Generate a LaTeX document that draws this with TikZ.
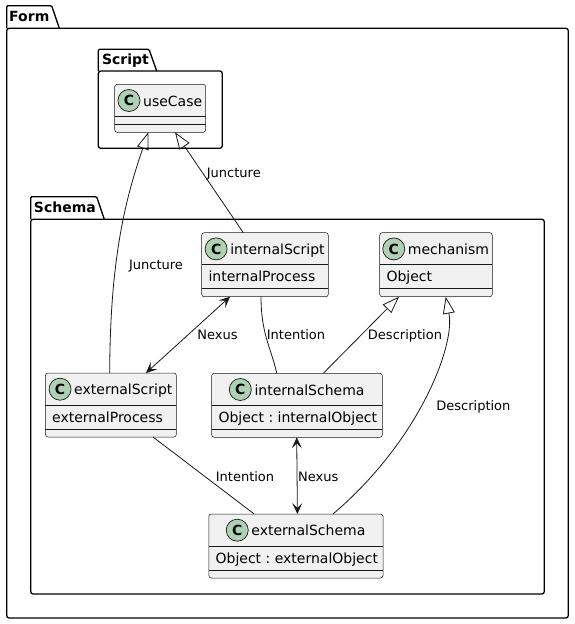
\documentclass[tikz,border=0pt]{standalone}
\usepackage{fontspec}
\setmainfont{DejaVu Sans}
\usetikzlibrary{arrows.meta}
\frenchspacing
\definecolor{classbg}{HTML}{F1F1F1}
\definecolor{lineclr}{HTML}{181818}
\definecolor{spotbg}{HTML}{ADD1B2}
\tikzset{
 classbox/.style={draw=lineclr,fill=classbg,line width=0.5pt,rounded corners=2.5pt,inner sep=0pt,outer sep=0pt},
 sepline/.style={draw=lineclr,line width=0.5pt},
 spot/.style={circle,draw=lineclr,fill=spotbg,line width=0.7pt,minimum size=22pt,inner sep=0pt,font=\fontsize{14}{14}\selectfont\bfseries},
 titletext/.style={inner sep=0pt,anchor=base,font=\fontsize{14}{16}\selectfont},
 attrtext/.style={inner sep=0pt,anchor=base west,font=\fontsize{14}{16}\selectfont},
 pkgbox/.style={draw=black,line width=1.3pt,rounded corners=2.5pt,inner sep=0pt,outer sep=0pt},
 pkgtab/.style={draw=black,line width=1.3pt,line join=round,rounded corners=1.2pt},
 pkgtitle/.style={inner sep=0pt,font=\fontsize{14}{16}\selectfont\bfseries,text height=10.2pt,text depth=0pt},
 conn/.style={draw=lineclr,line width=0.8pt},
 lbl/.style={inner sep=0pt,font=\fontsize{13}{15}\selectfont,text height=9.5pt,text depth=0pt},
 ext/.style={conn,arrows={Triangle[open,length=17pt,width=12pt]-}},
 nexus/.style={conn,arrows={Stealth[length=11pt,width=10pt,inset=5pt]-Stealth[length=11pt,width=10pt,inset=5pt]}},
}
% class with one attribute row
\newcommand{\umlclassA}[6]{%
 \node[classbox,minimum width=#4pt,minimum height=64pt,anchor=north west] (#1) at (#2,#3) {};
 \draw[sepline] ([yshift=-32pt]#1.north west) -- ([yshift=-32pt]#1.north east);
 \draw[sepline] ([yshift=8pt]#1.south west) -- ([yshift=8pt]#1.south east);
 \node[titletext] (#1-t) at ([xshift=12.5pt,yshift=-21.8pt]#1.north) {#5};
 \node[spot] (#1-c) at ([xshift=-14pt,yshift=5.6pt]#1-t.base west) {C};
 \node[attrtext] (#1-a) at ([xshift=6.6pt,yshift=-49.2pt]#1.north west) {#6};
}
% class with empty compartments
\newcommand{\umlclassE}[5]{%
 \node[classbox,minimum width=#4pt,minimum height=48pt,anchor=north west] (#1) at (#2,#3) {};
 \draw[sepline] ([yshift=-32pt]#1.north west) -- ([yshift=-32pt]#1.north east);
 \draw[sepline] ([yshift=8pt]#1.south west) -- ([yshift=8pt]#1.south east);
 \node[titletext] (#1-t) at ([xshift=12.5pt,yshift=-21.8pt]#1.north) {#5};
 \node[spot] (#1-c) at ([xshift=-14pt,yshift=5.6pt]#1-t.base west) {C};
}
\begin{document}
\begin{tikzpicture}[x=1pt,y=-1pt]
\useasboundingbox (0,0) rectangle (574,624);
% packages
\node[pkgbox,minimum width=561.6pt,minimum height=589.7pt,anchor=north west] (form) at (6.7,28.3) {};
\draw[pkgtab] (6.7,28.3) -- (6.7,5.7) -- (51.7,5.7) -- (59.3,28.3);
\node[pkgtitle] (formt) at (29.3,16.2) {Form};
\node[pkgbox,minimum width=124pt,minimum height=77.3pt,anchor=north west] (scriptpkg) at (98.3,71) {};
\draw[pkgtab] (98.3,71) -- (98.3,49.3) -- (149,49.3) -- (156.7,71);
\node[pkgtitle] (scriptt) at (125.5,59.7) {Script};
\node[pkgbox,minimum width=513.6pt,minimum height=374.7pt,anchor=north west] (schemapkg) at (30.7,219.3) {};
\draw[pkgtab] (30.7,219.3) -- (30.7,196.7) -- (96.7,196.7) -- (104.3,219.3);
\node[pkgtitle] (schemat) at (64.9,207.3) {Schema};
% classes
\umlclassE{uc}{114.7}{84.3}{91}{useCase}
\umlclassA{is}{201.7}{232.7}{126.6}{internalScript}{internalProcess}
\umlclassA{mech}{379.7}{232.7}{112.6}{mechanism}{Object}
\umlclassA{es}{45.4}{373}{130.9}{externalScript}{externalProcess}
\umlclassA{isch}{211.7}{373.3}{170.6}{internalSchema}{Object : internalObject}
\umlclassA{esch}{208.8}{514}{174.2}{externalSchema}{Object : externalObject}
% connectors
\draw[ext] ([xshift=33.6pt]uc.south west) .. controls (125,200) and (110,260) .. ([xshift=64.3pt]es.north west);
\draw[ext] ([xshift=60.3pt]uc.south west) -- ([xshift=41.6pt]is.north west);
\draw[nexus] ([xshift=28.3pt]is.south west) -- ([xshift=100.6pt]es.north west);
\draw[conn] ([xshift=59.3pt]is.south west) .. controls (261,335) and (272,350) .. ([xshift=65pt]isch.north west);
\draw[ext] ([xshift=19.3pt]mech.south west) -- ([xshift=111.6pt]isch.north west);
\draw[ext] ([xshift=66pt]mech.south west) -- (449,314) .. controls (455,345) and (420,440) .. ([xshift=124.2pt]esch.north west);
\draw[conn] ([xshift=107.6pt]es.south west) -- ([xshift=45.4pt]esch.north west);
\draw[nexus] ([xshift=85pt]isch.south west) -- ([xshift=88.6pt]esch.north west);
% labels
\node[lbl] (l1) at (233.8,172.3) {Juncture};
\node[lbl] (l2) at (156,265) {Juncture};
\node[lbl] (l3) at (217.5,334.3) {Nexus};
\node[lbl] (l4) at (296,334.3) {Intention};
\node[lbl] (l5) at (405,334.3) {Description};
\node[lbl] (l6) at (473.4,405.3) {Description};
\node[lbl] (l7) at (245,476.7) {Intention};
\node[lbl] (l8) at (318.3,476.7) {Nexus};
\end{tikzpicture}
\end{document}
